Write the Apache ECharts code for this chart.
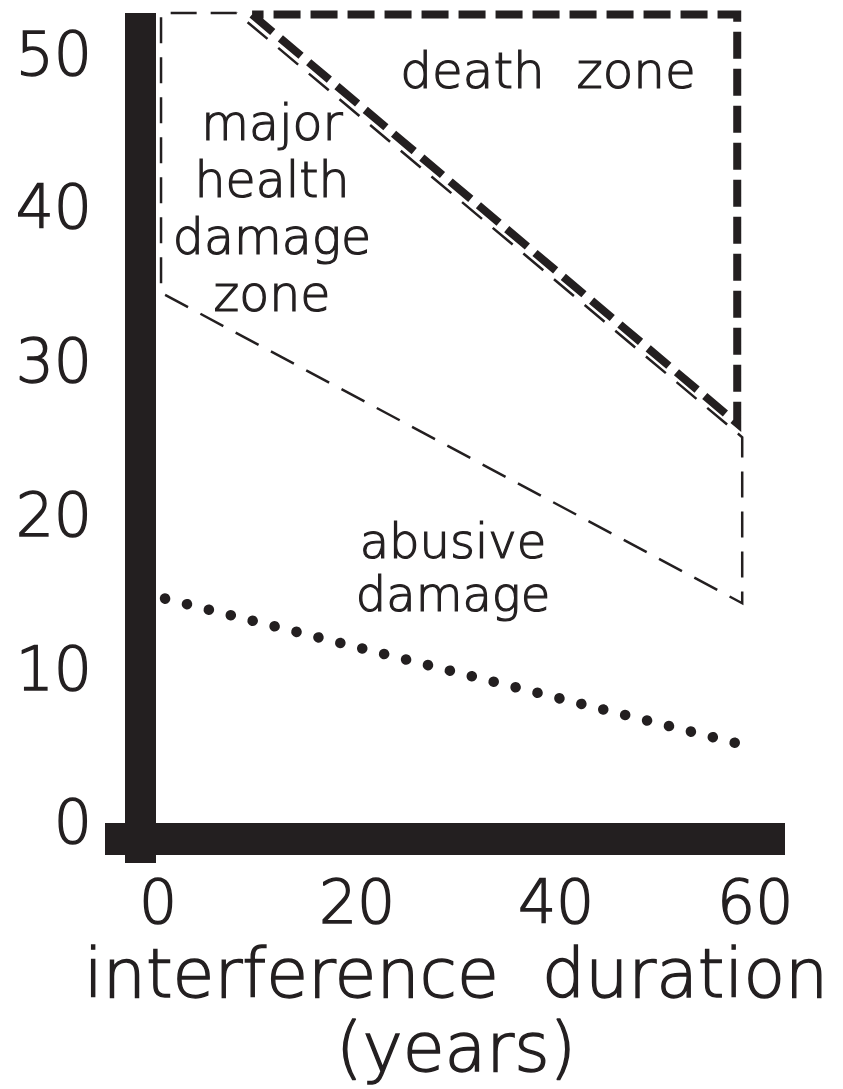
<!DOCTYPE html>
<html>
<head>
<meta charset="utf-8">
<title>interference duration</title>
<script src="https://cdn.jsdelivr.net/npm/echarts@6/dist/echarts.min.js"></script>
<style>
  html, body { margin: 0; padding: 0; background: #fff; }
  #main { width: 843px; height: 1089px; }
</style>
</head>
<body>
<div id="main"></div>
<script>
// tick labels
var xTicks = [0, 20, 40, 60];
var yTicks = [0, 10, 20, 30, 40, 50];

// death zone outline (years, damage)
var deathX = [9.45, 58.2, 58.2, 9.45];
var deathY = [52.9, 26.3, 52.9, 52.9];

// major health damage zone outline
var majorX = [7.9, 0.3, 0.3, 58.7, 58.7, 7.9];
var majorY = [53, 53, 34.8, 14.6, 25.4, 53];

// dotted line under abusive damage
var dotX = [0.7, 58.1];
var dotY = [14.9, 5.5];

function pairs(xs, ys) {
  return xs.map(function (x, i) { return [x, ys[i]]; });
}

var ink = '#231f20';
// light face thickened a little with an outline of the same colour
var txt = { fontFamily: 'DejaVu Sans', fontWeight: 200, textBorderColor: ink, textBorderWidth: 1.4 };

function textStyle(extra) {
  return Object.assign({ color: ink }, txt, extra);
}

var chart = echarts.init(document.getElementById('main'));

var option = {
  backgroundColor: '#fff',
  animation: false,
  grid: { left: 105, right: 58, top: 13, bottom: 226, containLabel: false, outerBoundsMode: 'none' },
  xAxis: {
    type: 'value',
    min: -5.33,
    max: 63,
    offset: -24,
    splitLine: { show: false },
    axisTick: { show: false },
    axisLine: { show: true, onZero: false, lineStyle: { color: ink, width: 32, cap: 'butt' } },
    axisLabel: textStyle({ customValues: xTicks, margin: 38, fontSize: 60 }),
    name: 'interference  duration\n(years)',
    nameLocation: 'middle',
    nameGap: 90,
    nameTextStyle: textStyle({ fontSize: 68, lineHeight: 74, padding: [0, 0, 0, 22] })
  },
  yAxis: {
    type: 'value',
    min: -2.3,
    max: 53,
    offset: -35,
    splitLine: { show: false },
    axisTick: { show: false },
    axisLine: { show: true, onZero: false, lineStyle: { color: ink, width: 31, cap: 'butt' } },
    axisLabel: textStyle({ customValues: yTicks, margin: 48, fontSize: 60 })
  },
  series: [
    {
      name: 'major health damage zone',
      type: 'line',
      data: pairs(majorX, majorY),
      symbol: 'none',
      clip: false,
      lineStyle: { color: ink, width: 2.5, type: [26, 14], cap: 'butt', join: 'miter' }
    },
    {
      name: 'death zone',
      type: 'line',
      data: pairs(deathX, deathY),
      symbol: 'none',
      clip: false,
      lineStyle: { color: ink, width: 8, type: [27, 10], cap: 'butt', join: 'miter' }
    },
    {
      name: 'abusive damage',
      type: 'line',
      data: pairs(dotX, dotY),
      symbol: 'none',
      clip: false,
      lineStyle: { color: ink, width: 10.5, type: [0.1, 22.5], cap: 'round' }
    }
  ],
  graphic: [
    {
      type: 'text',
      style: { text: 'death  zone', x: 548, y: 75, align: 'center', verticalAlign: 'middle',
               fill: ink, stroke: ink, lineWidth: 1.2, fontFamily: 'DejaVu Sans', fontWeight: 200, fontSize: 50 }
    },
    {
      type: 'text',
      style: { text: 'major\nhealth\ndamage\nzone', x: 272, y: 213, align: 'center', verticalAlign: 'middle',
               fill: ink, stroke: ink, lineWidth: 1.2, fontFamily: 'DejaVu Sans', fontWeight: 200, fontSize: 49, lineHeight: 57 }
    },
    {
      type: 'text',
      style: { text: 'abusive\ndamage', x: 453, y: 572, align: 'center', verticalAlign: 'middle',
               fill: ink, stroke: ink, lineWidth: 1.2, fontFamily: 'DejaVu Sans', fontWeight: 200, fontSize: 48, lineHeight: 53 }
    }
  ]
};

chart.setOption(option);
</script>
</body>
</html>
